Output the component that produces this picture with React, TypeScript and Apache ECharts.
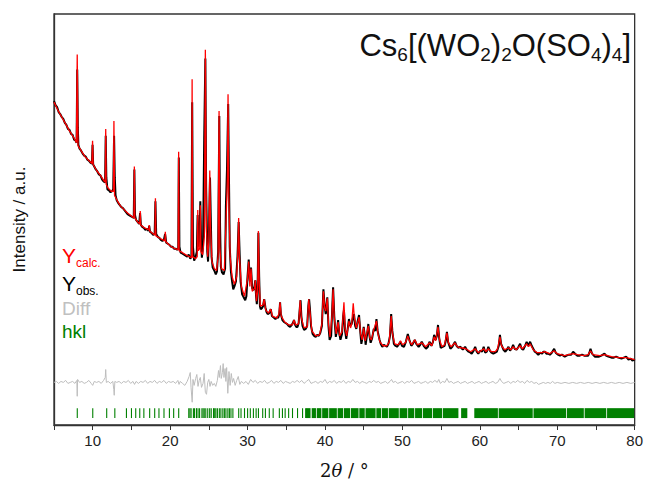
import React, { useEffect, useRef } from "react";
import * as echarts from "echarts";

// 2θ (deg) / intensity (a.u.) pairs
const obsPoints: number[][] = [
  [5.0,327],[5.2,323],[5.4,321],[5.6,316],[5.8,314],[6.0,311],[6.2,309],[6.4,305],[6.6,303],[6.8,299],[7.0,298],[7.2,294],[7.4,293],[7.6,288],[7.8,287],[7.92,285],[8.0,359],[8.08,300],[8.15,283],[8.3,279],[8.5,277],[8.7,274],[8.9,272],[9.1,271],[9.3,268],[9.5,267],[9.7,265],[9.9,264],[9.98,283],[10.06,263],[10.2,261],[10.4,258],[10.6,256],[10.8,253],[11.0,252],[11.2,248],[11.4,246],[11.6,245],[11.68,292],[11.76,250],[11.9,238],[12.1,237],[12.3,235],[12.5,236],[12.65,238],[12.76,292],[12.85,250],[12.95,232],[13.1,227],[13.3,224],[13.5,222],[13.7,220],[13.9,219],[14.1,217],[14.3,215],[14.5,213],[14.7,212],[14.9,211],[15.1,210],[15.3,209],[15.38,258],[15.46,212],[15.6,207],[15.8,205],[16.0,203],[16.12,214],[16.22,202],[16.4,200],[16.6,199],[16.8,197],[17.0,198],[17.2,196],[17.3,201],[17.4,195],[17.6,194],[17.8,192],[18.0,193],[18.1,226],[18.2,193],[18.4,190],[18.6,189],[18.8,187],[19.0,186],[19.2,187],[19.35,193],[19.5,184],[19.7,183],[19.9,182],[20.1,180],[20.3,180],[20.5,178],[20.7,178],[20.9,177],[21.05,178],[21.12,270],[21.2,180],[21.35,174],[21.6,173],[21.8,172],[22.0,171],[22.2,170],[22.4,172],[22.6,168],[22.75,170],[22.85,326],[22.95,180],[23.1,166],[23.3,170],[23.45,175],[23.55,212],[23.65,180],[23.8,190],[23.9,226],[24.0,185],[24.1,169],[24.25,180],[24.4,289],[24.55,370],[24.65,240],[24.8,175],[24.9,165],[25.0,190],[25.15,250],[25.25,210],[25.35,170],[25.5,159],[25.7,156],[25.9,152],[26.05,155],[26.2,175],[26.35,312],[26.45,200],[26.55,160],[26.7,154],[26.9,152],[27.1,158],[27.2,220],[27.35,260],[27.5,324],[27.6,250],[27.7,180],[27.85,155],[28.0,145],[28.15,137],[28.3,140],[28.5,145],[28.7,170],[28.85,205],[28.95,180],[29.1,145],[29.3,132],[29.5,129],[29.7,126],[29.85,130],[30.0,150],[30.15,167],[30.3,145],[30.45,159],[30.6,138],[30.75,136],[30.9,140],[31.0,146],[31.1,130],[31.2,122],[31.3,140],[31.4,194],[31.5,150],[31.6,120],[31.7,117],[31.85,118],[32.0,120],[32.15,127],[32.3,119],[32.45,114],[32.6,112],[32.8,113],[33.0,117],[33.15,110],[33.3,109],[33.45,108],[33.6,107],[33.8,109],[33.95,108],[34.1,112],[34.2,124],[34.3,112],[34.5,106],[34.7,104],[34.9,103],[35.1,102],[35.3,100],[35.5,99],[35.7,101],[35.85,103],[36.0,106],[36.15,101],[36.3,99],[36.45,99],[36.6,103],[36.75,118],[36.85,126],[36.95,110],[37.1,100],[37.3,96],[37.5,97],[37.7,100],[37.85,120],[37.95,127],[38.05,118],[38.2,100],[38.4,92],[38.6,90],[38.8,89],[39.0,91],[39.2,90],[39.4,93],[39.6,100],[39.8,137],[39.95,120],[40.1,112],[40.3,129],[40.45,100],[40.6,86],[40.8,90],[40.95,120],[41.05,139],[41.2,110],[41.4,89],[41.55,95],[41.7,106],[41.85,92],[42.0,86],[42.2,92],[42.35,110],[42.45,116],[42.6,95],[42.75,87],[42.9,95],[43.1,107],[43.25,100],[43.45,102],[43.6,108],[43.75,112],[43.9,100],[44.05,97],[44.2,104],[44.4,111],[44.55,95],[44.7,82],[44.85,88],[45.0,99],[45.15,90],[45.25,81],[45.45,92],[45.6,102],[45.75,90],[45.9,83],[46.1,88],[46.3,97],[46.5,95],[46.65,107],[46.8,95],[47.05,86],[47.2,82],[47.4,79],[47.6,81],[47.8,80],[48.0,79],[48.2,82],[48.4,90],[48.55,112],[48.7,95],[48.9,82],[49.1,80],[49.3,79],[49.5,81],[49.75,84],[49.95,80],[50.2,79],[50.45,84],[50.7,92],[50.9,86],[51.15,80],[51.35,82],[51.6,86],[51.8,82],[52.1,79],[52.3,81],[52.5,84],[52.75,80],[53.05,77],[53.3,79],[53.5,84],[53.75,80],[53.95,84],[54.1,91],[54.3,86],[54.45,90],[54.6,101],[54.75,88],[54.95,78],[55.2,79],[55.45,80],[55.6,85],[55.75,94],[55.9,84],[56.2,77],[56.45,79],[56.65,82],[56.8,84],[57.0,80],[57.2,78],[57.5,79],[57.8,76],[58.1,79],[58.3,76],[58.55,74],[58.8,73],[58.95,72],[59.2,75],[59.4,79],[59.6,74],[59.8,72],[60.05,75],[60.3,74],[60.5,79],[60.7,73],[60.9,74],[61.1,79],[61.3,75],[61.5,73],[61.75,72],[62.0,73],[62.2,74],[62.45,80],[62.6,91],[62.75,82],[63.05,76],[63.3,74],[63.5,76],[63.7,79],[63.9,75],[64.1,77],[64.3,81],[64.5,77],[64.75,76],[65.0,79],[65.2,82],[65.4,77],[65.6,76],[65.85,80],[66.05,84],[66.25,80],[66.5,84],[66.7,80],[66.9,77],[67.1,74],[67.3,73],[67.55,71],[67.8,73],[68.05,72],[68.2,74],[68.4,74],[68.6,72],[68.85,72],[69.05,71],[69.3,73],[69.6,77],[69.8,73],[70.1,71],[70.35,70],[70.6,71],[70.97,69],[71.2,70],[71.5,71],[71.8,71],[72.05,74],[72.3,72],[72.6,70],[72.9,70],[73.2,71],[73.5,70],[73.8,70],[74.0,70],[74.15,73],[74.3,77],[74.5,72],[74.85,69],[75.1,69],[75.4,69],[75.7,70],[75.9,71],[76.1,72],[76.3,70],[76.6,69],[77.0,68],[77.3,68],[77.6,69],[77.9,68],[78.3,67],[78.6,68],[78.9,69],[79.2,66],[79.5,67],[79.7,65],[79.9,66],[80.0,65]
];

const calcPoints: number[][] = [
  [5.0,326],[5.5,318],[6.0,311],[6.5,304],[7.0,297],[7.5,291],[7.9,285],[8.0,374],[8.1,282],[8.5,277],[9.0,271],[9.5,267],[9.9,264],[9.98,287],[10.06,263],[10.5,257],[11.0,252],[11.5,246],[11.62,245],[11.68,299],[11.74,243],[12.0,239],[12.4,236],[12.68,236],[12.74,307],[12.82,232],[13.2,226],[13.6,221],[14.0,218],[14.5,214],[15.0,211],[15.32,209],[15.38,261],[15.44,209],[15.8,205],[16.08,203],[16.14,216],[16.2,202],[16.7,199],[17.25,197],[17.3,202],[17.35,196],[17.8,193],[18.04,192],[18.1,229],[18.16,191],[18.8,188],[19.32,186],[19.38,195],[19.44,185],[20.0,181],[20.6,178],[21.04,177],[21.1,276],[21.16,176],[21.6,174],[22.2,171],[22.78,169],[22.84,349],[22.9,170],[23.3,168],[23.5,170],[23.57,217],[23.64,176],[23.82,178],[23.9,222],[23.98,175],[24.2,172],[24.42,190],[24.55,379],[24.68,200],[24.85,170],[25.0,185],[25.12,257],[25.22,200],[25.4,165],[25.7,158],[26.0,156],[26.2,170],[26.32,317],[26.42,180],[26.6,158],[27.0,156],[27.2,200],[27.4,250],[27.48,334],[27.58,230],[27.75,170],[28.0,150],[28.3,142],[28.6,150],[28.75,175],[28.85,209],[28.95,170],[29.2,140],[29.6,130],[30.0,148],[30.15,165],[30.3,140],[30.45,158],[30.6,135],[30.9,138],[31.0,146],[31.15,125],[31.3,135],[31.4,196],[31.5,145],[31.65,120],[32.0,121],[32.15,127],[32.35,116],[32.7,113],[33.0,117],[33.2,110],[33.8,108],[34.05,112],[34.2,124],[34.35,110],[34.8,104],[35.3,101],[35.8,101],[36.0,106],[36.2,101],[36.6,102],[36.8,126],[36.95,108],[37.3,98],[37.7,99],[37.9,127],[38.05,115],[38.3,95],[38.8,90],[39.3,91],[39.6,102],[39.8,135],[39.95,118],[40.1,115],[40.3,128],[40.45,102],[40.65,89],[40.9,110],[41.05,137],[41.2,108],[41.45,92],[41.7,104],[41.9,90],[42.2,94],[42.45,124],[42.6,97],[42.8,90],[43.1,105],[43.3,98],[43.45,102],[43.65,123],[43.8,108],[44.05,98],[44.4,109],[44.6,92],[44.8,86],[45.0,98],[45.2,85],[45.6,100],[45.8,88],[46.0,86],[46.3,96],[46.65,105],[46.85,92],[47.1,84],[47.5,80],[48.0,80],[48.3,84],[48.55,110],[48.7,93],[49.0,82],[49.5,81],[49.75,85],[50.0,81],[50.4,83],[50.7,90],[50.9,85],[51.2,81],[51.6,86],[51.9,81],[52.5,83],[53.0,79],[53.5,83],[53.8,80],[54.1,89],[54.3,85],[54.6,99],[54.8,86],[55.1,79],[55.45,81],[55.75,93],[55.95,83],[56.3,79],[56.8,83],[57.1,79],[57.6,78],[58.2,77],[58.8,74],[59.4,77],[59.8,73],[60.5,77],[60.8,74],[61.1,77],[61.5,74],[62.0,74],[62.3,77],[62.6,89],[62.8,80],[63.2,76],[63.7,78],[64.0,76],[64.3,79],[64.7,76],[65.2,80],[65.5,77],[66.05,82],[66.3,79],[66.5,82],[66.9,76],[67.4,73],[68.0,73],[68.4,74],[69.0,72],[69.6,75],[70.0,72],[70.9,70],[72.05,72],[72.6,71],[73.5,70],[74.0,71],[74.3,75],[74.6,71],[75.5,70],[76.1,71],[77.0,69],[78.0,68],[78.9,68],[79.5,67],[80.0,66]
];

const diffPoints: number[][] = [
  [5.0,43],[5.3,44],[5.6,42],[5.9,44],[6.2,43],[6.5,45],[6.8,42],[7.1,43],[7.4,44],[7.7,42],[7.95,45],[8.0,29],[8.05,46],[8.3,43],[8.6,44],[8.9,42],[9.2,43],[9.5,45],[9.8,42],[10.0,40],[10.2,44],[10.5,43],[10.8,44],[11.1,42],[11.4,45],[11.62,48],[11.68,56],[11.76,43],[12.0,44],[12.3,42],[12.6,44],[12.72,36],[12.78,30],[12.86,44],[13.1,43],[13.4,44],[13.7,42],[14.0,44],[14.3,43],[14.6,45],[14.9,42],[15.2,44],[15.4,41],[15.6,44],[15.9,42],[16.2,44],[16.5,43],[16.8,45],[17.1,42],[17.4,44],[17.7,43],[18.0,45],[18.3,42],[18.6,44],[18.9,43],[19.2,45],[19.5,42],[19.8,44],[20.1,43],[20.4,44],[20.7,42],[21.0,45],[21.15,41],[21.3,44],[21.6,42],[21.9,40],[22.2,44],[22.45,49],[22.6,53],[22.7,38],[22.85,23],[22.95,46],[23.1,40],[23.3,47],[23.45,51],[23.6,39],[23.75,45],[23.9,48],[24.05,38],[24.25,42],[24.4,52],[24.55,33],[24.7,31],[24.85,43],[25.0,46],[25.15,39],[25.3,44],[25.5,40],[25.7,42],[25.9,39],[26.1,45],[26.25,55],[26.35,48],[26.5,60],[26.6,47],[26.75,53],[26.85,62],[26.95,48],[27.1,57],[27.2,44],[27.3,58],[27.45,32],[27.6,54],[27.75,40],[27.9,52],[28.05,43],[28.2,47],[28.4,40],[28.6,45],[28.8,49],[29.0,41],[29.2,44],[29.5,42],[29.8,44],[30.1,41],[30.4,46],[30.7,43],[31.0,45],[31.3,42],[31.6,44],[31.9,43],[32.2,45],[32.5,42],[32.8,43],[33.1,45],[33.4,42],[33.7,44],[34.0,43],[34.3,45],[34.6,42],[34.9,44],[35.2,43],[35.5,42],[35.8,44],[36.1,43],[36.4,45],[36.7,43],[37.0,45],[37.3,42],[37.6,44],[37.9,46],[38.2,42],[38.5,43],[38.8,44],[39.1,42],[39.4,44],[39.7,43],[40.0,46],[40.3,42],[40.6,44],[40.9,43],[41.2,45],[41.5,42],[41.8,44],[42.1,43],[42.4,45],[42.7,42],[43.0,44],[43.3,43],[43.6,46],[43.9,43],[44.2,44],[44.5,42],[44.8,44],[45.1,43],[45.4,42],[45.7,44],[46.0,43],[46.3,45],[46.6,43],[46.9,44],[47.2,42],[47.5,43],[47.8,44],[48.1,42],[48.4,44],[48.6,46],[48.8,43],[49.1,44],[49.4,42],[49.7,43],[50.0,44],[50.3,42],[50.6,44],[50.9,43],[51.2,45],[51.5,42],[51.8,43],[52.1,44],[52.4,42],[52.7,43],[53.0,44],[53.3,42],[53.6,44],[53.9,43],[54.2,45],[54.5,43],[54.7,46],[54.9,42],[55.2,44],[55.5,43],[55.75,47],[56.0,43],[56.3,44],[56.6,42],[56.9,43],[57.2,44],[57.5,42],[57.8,43],[58.1,44],[58.4,42],[58.7,43],[59.0,44],[59.3,42],[59.6,43],[59.9,44],[60.2,42],[60.5,43],[60.8,44],[61.1,42],[61.4,43],[61.7,44],[62.0,42],[62.3,43],[62.6,47],[62.8,44],[63.1,42],[63.4,43],[63.7,44],[64.0,42],[64.3,44],[64.6,43],[64.9,45],[65.2,43],[65.5,44],[65.8,42],[66.1,45],[66.4,43],[66.7,44],[67.0,42],[67.3,43],[67.6,41],[67.9,42],[68.2,43],[68.5,42],[68.8,43],[69.1,42],[69.4,44],[69.7,42],[70.0,43],[70.5,42],[71.0,43],[71.5,42],[72.0,43],[72.5,42],[73.0,43],[73.5,42],[74.0,43],[74.5,42],[75.0,43],[75.5,42],[76.0,43],[76.5,42],[77.0,43],[77.5,42],[78.0,43],[78.5,42],[79.0,43],[79.5,42],[80.0,43]
];

// single reflection positions (2θ)
const hklPositions: number[] = [
  8.0, 10.0, 11.8, 12.85, 14.35, 15.0, 15.55, 16.07, 16.6, 17.35, 18.0, 18.55, 19.2, 19.9, 20.45, 21.1,
  22.4, 22.55, 22.7, 23.0, 23.15, 23.4, 23.6, 23.8, 24.1, 24.25, 24.4, 24.6, 24.85, 25.1, 25.3, 25.6, 25.75,
  25.9, 26.1, 26.35, 26.55, 26.8, 27.0, 27.2, 27.45, 27.65, 27.85, 28.1, 28.85, 29.15, 29.6, 30.0, 30.35,
  30.75, 31.1, 31.4, 31.95, 32.3, 32.8, 33.3, 34.1, 34.5, 34.85, 35.3, 35.8, 36.45, 37.1, 37.5
];
// 2θ ranges where reflections overlap into a continuous band
const hklBands: number[][] = [
  [37.6,38.2],[38.35,38.9],[39.0,39.6],[39.7,40.5],[40.6,41.6],[41.7,42.4],[42.5,43.3],[43.4,44.4],
  [44.5,45.2],[45.3,46.6],[46.7,47.3],[47.4,48.2],[48.3,49.6],[49.7,50.7],[50.8,51.6],[51.7,52.6],
  [52.7,53.9],[54.0,55.2],[55.3,57.3],[57.65,58.45],[59.35,62.4],[62.5,66.9],[67.0,71.2],[71.3,73.5],
  [73.6,76.4],[76.5,80.0]
];

const xTicks = [10, 20, 30, 40, 50, 60, 70, 80];

const FONT = "Liberation Sans, Arial, sans-serif";

export default function App() {
  const ref = useRef<HTMLDivElement>(null);
  useEffect(() => {
    if (!ref.current) return;
    const chart = echarts.init(ref.current, undefined, { renderer: "svg" });
    const hklData = [
      ...hklPositions.map((p) => [p, p]),
      ...hklBands.map((b) => [b[0], b[1]]),
    ];
    const legendRich = (color: string) => ({
      m: { fontSize: 21, lineHeight: 22, fontFamily: FONT, fill: color },
      s: { fontSize: 12, lineHeight: 12, padding: [16, 0, 0, 0], fontFamily: FONT, fill: color },
    });
    const option: any = {
      animation: false,
      backgroundColor: "#ffffff",
      textStyle: { fontFamily: FONT },
      grid: {
        left: 54, right: 9, top: 14, bottom: 55,
        show: true, borderColor: "#333", borderWidth: 1.3,
      },
      xAxis: {
        type: "value", min: 5, max: 80, interval: 5,
        axisLine: { show: true, lineStyle: { color: "#333", width: 1.3 } },
        axisTick: { show: true, inside: false, length: 5, lineStyle: { color: "#333", width: 1 } },
        axisLabel: {
          formatter: (v: number) => (xTicks.includes(v) ? String(v) : ""),
          color: "#222", fontSize: 15, fontFamily: FONT, margin: 8,
        },
        splitLine: { show: false },
        name: "{n|2}{i|θ}{n| / °}",
        nameLocation: "middle", nameGap: 36,
        nameTextStyle: {
          rich: {
            n: { fontSize: 18, fontFamily: "DejaVu Serif, serif", color: "#111" },
            i: { fontSize: 18, fontFamily: "DejaVu Serif, serif", fontStyle: "italic", color: "#111" },
          },
        },
      },
      yAxis: {
        type: "value", min: 0, max: 415,
        axisLine: { show: true, lineStyle: { color: "#333", width: 1.3 } },
        axisTick: { show: false }, axisLabel: { show: false }, splitLine: { show: false },
        name: "Intensity / a.u.", nameLocation: "middle", nameGap: 26,
        nameTextStyle: { fontSize: 17, fontFamily: FONT, color: "#111" },
      },
      series: [
        {
          type: "line", name: "Diff", data: diffPoints, symbol: "none",
          lineStyle: { color: "#bdbdbd", width: 1 }, z: 2,
        },
        {
          type: "line", name: "Yobs", data: obsPoints, symbol: "none",
          lineStyle: { color: "#000", width: 2 }, z: 3,
        },
        {
          type: "line", name: "Ycalc", data: calcPoints, symbol: "none",
          lineStyle: { color: "#ff0000", width: 1.3 }, z: 4,
        },
        {
          type: "custom", name: "hkl", data: hklData, z: 2,
          renderItem: (params: any, api: any) => {
            const a = api.coord([api.value(0), 17]);
            const b = api.coord([api.value(1), 7]);
            const w = Math.max(1.1, b[0] - a[0]);
            return {
              type: "rect",
              shape: { x: a[0] - 0.5, y: a[1], width: w, height: b[1] - a[1] },
              style: { fill: "#008000" },
            };
          },
        },
      ],
      graphic: [
        {
          type: "text", right: 15, top: 27,
          style: {
            text: "{m|Cs}{s|6}{m|[(WO}{s|2}{m|)}{s|2}{m|O(SO}{s|4}{m|)}{s|4}{m|]}",
            fill: "#111",
            rich: {
              m: { fontSize: 31, lineHeight: 34, fontFamily: FONT, fill: "#111" },
              s: { fontSize: 19, lineHeight: 19, padding: [18, 0, 0, 0], fontFamily: FONT, fill: "#111" },
            },
          },
        },
        {
          type: "text", left: 62, top: 241,
          style: { text: "{m|Y}{s|calc.}", rich: legendRich("#ff0000") },
        },
        {
          type: "text", left: 62, top: 269,
          style: { text: "{m|Y}{s|obs.}", rich: legendRich("#000000") },
        },
        {
          type: "text", left: 62, top: 299,
          style: { text: "Diff", fontSize: 19, fontFamily: FONT, fill: "#c0c0c0" },
        },
        {
          type: "text", left: 62, top: 322,
          style: { text: "hkl", fontSize: 19, fontFamily: FONT, fill: "#008000" },
        },
      ],
    };
    chart.setOption(option);
    return () => chart.dispose();
  }, []);
  return <div ref={ref} style={{ width: 646, height: 484, position: "absolute", left: 0, top: 0 }} />;
}
